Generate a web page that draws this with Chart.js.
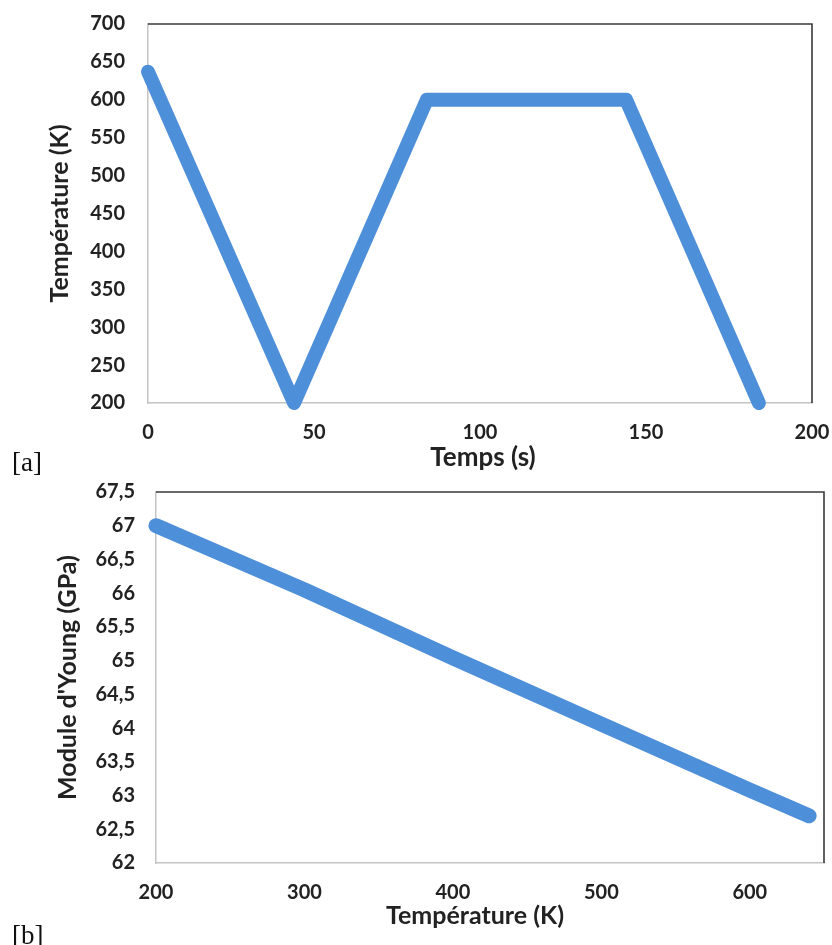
<!DOCTYPE html>
<html>
<head>
<meta charset="utf-8">
<script src="https://cdn.jsdelivr.net/npm/chart.js@4.4.0/dist/chart.umd.min.js"></script>
<style>
  html, body { margin: 0; padding: 0; background: #ffffff; }
  body { width: 832px; height: 945px; position: relative; overflow: hidden; }
  canvas { position: absolute; left: 0; }
  #ca { top: 0; }
  #cb { top: 480px; }
  .tag { position: absolute; font-family: "Liberation Serif", "DejaVu Serif", serif; font-size: 27px; color: #111; line-height: 27px; }
  .xt { position: absolute; font-family: Lato, "Open Sans", sans-serif; font-weight: bold; color: #222; line-height: 1; white-space: nowrap; transform: translate(-50%, -50%); }
</style>
</head>
<body>
<canvas id="ca" width="832" height="480"></canvas>
<canvas id="cb" width="832" height="465"></canvas>
<div class="tag" style="left:12px; top:449px;">[a]</div>
<div class="tag" style="left:12px; top:922px;">[b]</div>
<div class="xt" style="left:483px; top:456px; font-size:26px;">Temps (s)</div>
<div class="xt" style="left:475px; top:914px; font-size:25px;">Température (K)</div>
<script>
// ---- Chart [a] : temperature cycle ----
const timeA = [0, 44, 84, 144, 184];
const tempA = [637, 200, 600, 600, 200];
const xTicksA = [0, 50, 100, 150, 200];
const yTicksA = [200, 250, 300, 350, 400, 450, 500, 550, 600, 650, 700];

// ---- Chart [b] : Young's modulus vs temperature ----
const tempB = [200, 300, 400, 500, 600, 640];
const youngB = [67.0, 66.05, 65.04, 64.06, 63.08, 62.7];
const xTicksB = [200, 300, 400, 500, 600];
const yTicksB = [62, 62.5, 63, 63.5, 64, 64.5, 65, 65.5, 66, 66.5, 67, 67.5];

const LINE = '#4d8fd8';
const TICKFONT = { family: 'Lato, "Open Sans", sans-serif', size: 20, weight: 'bold' };
const TITLEFONT = { family: 'Lato, "Open Sans", sans-serif', size: 25, weight: 'bold' };

const framePlugin = {
  id: 'frame',
  afterDatasetsDraw(chart) {
    const a = chart.chartArea, ctx = chart.ctx;
    ctx.save();
    ctx.strokeStyle = '#3a3a3a';
    ctx.lineWidth = 1.6;
    ctx.beginPath();
    ctx.moveTo(a.left, a.top);
    ctx.lineTo(a.right, a.top);
    ctx.lineTo(a.right, a.bottom);
    ctx.stroke();
    ctx.restore();
  }
};

function fmtComma(v) {
  return Number.isInteger(v) ? String(v) : v.toFixed(1).replace('.', ',');
}

function makeChart(id, xs, ys, xTicks, yTicks, cfg) {
  return new Chart(document.getElementById(id), {
    type: 'scatter',
    data: {
      datasets: [{
        data: xs.map((x, i) => ({ x: x, y: ys[i] })),
        showLine: true,
        borderColor: LINE,
        backgroundColor: LINE,
        borderWidth: cfg.lw,
        borderCapStyle: 'round',
        borderJoinStyle: 'round',
        pointRadius: 0,
        pointHoverRadius: 0,
        clip: 10
      }]
    },
    options: {
      responsive: false,
      animation: false,
      events: [],
      layout: { padding: cfg.padding, autoPadding: false },
      plugins: { legend: { display: false }, tooltip: { enabled: false } },
      scales: {
        x: {
          type: 'linear',
          min: cfg.xmin, max: cfg.xmax,
          afterBuildTicks(s) { s.ticks = xTicks.map(v => ({ value: v })); },
          afterFit(s) { s.height = cfg.xAxisH; s.paddingLeft = 0; s.paddingRight = 0; },
          grid: { display: false, drawTicks: false },
          border: { display: true, color: '#c4c4c4', width: 1.5 },
          ticks: { color: '#222', font: TICKFONT, padding: 18, maxRotation: 0, autoSkip: false,
                   callback: v => String(v) }
        },
        y: {
          type: 'linear',
          min: cfg.ymin, max: cfg.ymax,
          afterBuildTicks(s) { s.ticks = yTicks.map(v => ({ value: v })); },
          afterFit(s) { s.width = cfg.yAxisW; s.paddingTop = 0; s.paddingBottom = 0; },
          grid: { display: false, drawTicks: false },
          border: { display: true, color: '#c4c4c4', width: 1.5 },
          ticks: { color: '#222', font: TICKFONT, padding: cfg.yPad, autoSkip: false,
                   callback: v => fmtComma(v) },
          title: { display: true, text: cfg.yTitle, color: '#222', font: TITLEFONT,
                   padding: { top: cfg.yTitlePad, bottom: 0 } }
        }
      }
    },
    plugins: [framePlugin]
  });
}

makeChart('ca', timeA, tempA, xTicksA, yTicksA, {
  padding: { left: 0, top: 24, right: 20, bottom: 0 },
  xmin: 0, xmax: 200, ymin: 200, ymax: 700,
  xAxisH: 77, yAxisW: 148, yPad: 23, yTitlePad: 45, lw: 14,
  yTitle: 'Température (K)'
});

makeChart('cb', tempB, youngB, xTicksB, yTicksB, {
  padding: { left: 0, top: 12, right: 8, bottom: 0 },
  xmin: 200, xmax: 650, ymin: 62, ymax: 67.5,
  xAxisH: 82, yAxisW: 156, yPad: 21, yTitlePad: 53, lw: 15,
  yTitle: "Module d'Young (GPa)"
});
</script>
</body>
</html>
